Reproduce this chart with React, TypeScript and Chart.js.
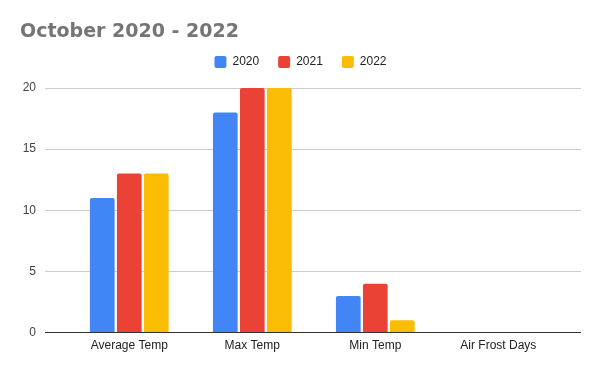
import React, { useEffect, useRef } from "react";
import { Chart, registerables } from "chart.js";

Chart.register(...registerables);

const categories = ["Average Temp", "Max Temp", "Min Temp", "Air Frost Days"];
const seriesNames = ["2020", "2021", "2022"];
const values2020 = [11, 18, 3, 0];
const values2021 = [13, 20, 4, 0];
const values2022 = [13, 20, 1, 0];
const seriesColors = ["#4285F4", "#EA4335", "#FBBC04"];
const yTicks = [0, 5, 10, 15, 20];

const FONT = "'Liberation Sans', Arial, sans-serif";

export default function App() {
  const ref = useRef<HTMLCanvasElement>(null);

  useEffect(() => {
    if (!ref.current) return;
    Chart.defaults.font.family = FONT;
    const allValues = [values2020, values2021, values2022];
    const chart = new Chart(ref.current, {
      type: "bar",
      data: {
        datasets: allValues.map((vals, si) => ({
          label: seriesNames[si],
          data: vals.map((v, i) => ({ x: i, y: v })),
          backgroundColor: seriesColors[si],
          borderRadius: { topLeft: 2, topRight: 2, bottomLeft: 0, bottomRight: 0 },
          borderSkipped: false,
          categoryPercentage: 0.6585,
          barPercentage: 0.915,
        })),
      },
      options: {
        animation: false,
        responsive: false,
        maintainAspectRatio: false,
        layout: { padding: { left: 20, right: 19, top: 0, bottom: 12 } },
        plugins: {
          title: {
            display: true,
            text: "October 2020 - 2022",
            align: "start",
            color: "#757575",
            font: { family: "'DejaVu Sans', sans-serif", size: 19, weight: "bold", lineHeight: 1 },
            padding: { top: 23, bottom: -5 },
          },
          subtitle: {
            display: true,
            text: "",
            weight: 500,
            font: { size: 10, lineHeight: 1 },
            padding: { top: 0, bottom: 0 },
          } as any,
          legend: {
            display: true,
            position: "top",
            labels: {
              boxWidth: 12,
              boxHeight: 12,
              padding: 19,
              color: "#222222",
              useBorderRadius: true,
              borderRadius: 2,
              font: { family: FONT, size: 12 },
            },
          },
          tooltip: { enabled: false },
        },
        scales: {
          x: {
            type: "linear",
            offset: false,
            min: -0.685,
            max: 3.672,
            grid: { display: false, drawTicks: false, offset: false },
            border: { display: false },
            ticks: {
              includeBounds: false,
              stepSize: 1,
              autoSkip: false,
              maxRotation: 0,
              padding: 6,
              color: "#222222",
              font: { family: FONT, size: 12 },
              callback: (v: any) => {
                const n = Number(v);
                return Number.isInteger(n) && categories[n] !== undefined ? categories[n] : "";
              },
            },
          },
          y: {
            min: yTicks[0],
            max: yTicks[yTicks.length - 1],
            afterFit: (scale: any) => {
              scale.width = 25;
            },
            afterBuildTicks: (scale: any) => {
              scale.ticks = yTicks.map((v) => ({ value: v }));
            },
            grid: {
              drawTicks: false,
              color: (ctx: any) => (ctx.tick && ctx.tick.value === 0 ? "#333333" : "#cccccc"),
              lineWidth: 1,
            },
            border: { display: false },
            ticks: {
              padding: 9,
              color: "#444444",
              font: { family: FONT, size: 12 },
            },
          },
        },
      },
    });
    return () => chart.destroy();
  }, []);

  return (
    <div style={{ position: "fixed", left: 0, top: 0, width: 600, height: 371, background: "#ffffff" }}>
      <canvas ref={ref} width={600} height={371} style={{ width: 600, height: 371, display: "block" }} />
    </div>
  );
}
